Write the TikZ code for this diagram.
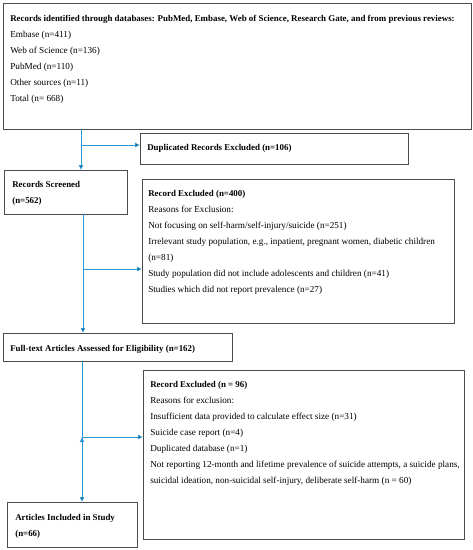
\documentclass[tikz,border=0pt]{standalone}
\usepackage{fontspec}
\setmainfont{Liberation Serif}
\usetikzlibrary{arrows.meta,positioning}
\definecolor{flowblue}{RGB}{40,150,210}
\newcommand{\hd}[1]{{\fontsize{8.9}{16}\selectfont\bfseries #1}}

\begin{document}
\begin{tikzpicture}[x=1pt,y=1pt,>={Latex[length=5pt,width=5pt]},
                    semithick]
\tikzstyle{every node}=[font=\fontsize{9.2}{16}\selectfont]
\tikzstyle{box}=[draw=black!70,line width=0.8pt,inner sep=0pt,anchor=north west]
\tikzstyle{txt}=[inner sep=0pt,anchor=north west,align=left]
\tikzstyle{flow}=[->,draw=flowblue,line width=0.9pt]

\useasboundingbox (0,0) rectangle (473,-550);

        % boxes
        \node[box,minimum width=468pt,minimum height=126pt]   (ident)  at (3,-3)     {};
        \node[box,minimum width=268pt,minimum height=31pt]    (dup)    at (140,-133) {};
        \node[box,minimum width=123pt,minimum height=44pt]    (screen) at (4,-170)   {};
        \node[box,minimum width=312pt,minimum height=144pt]   (excl1)  at (142,-179) {};
        \node[box,minimum width=229pt,minimum height=28pt]    (full)   at (3,-333)   {};
        \node[box,minimum width=321pt,minimum height=169pt]   (excl2)  at (143,-370) {};
        \node[box,minimum width=130pt,minimum height=45pt]    (incl)   at (7,-502)   {};

        % texts
        \node[txt] (tident) at ([shift={(7,-12)}]ident.north west)
            {\hd{Records identified through databases: PubMed, Embase, Web of Science, Research Gate, and from previous reviews:}\\
             Embase (n=411)\\ Web of Science (n=136)\\ PubMed (n=110)\\ Other sources (n=11)\\ Total (n= 668)};
        \node[txt] (tdup) at ([shift={(7,-11)}]dup.north west)
            {\hd{Duplicated Records Excluded (n=106)}};
        \node[txt] (tscreen) at ([shift={(8,-11)}]screen.north west)
            {\hd{Records Screened}\\ \hd{(n=562)}};
        \node[txt] (texcl1) at ([shift={(6,-11)}]excl1.north west)
            {\hd{Record Excluded (n=400)}\\
             Reasons for Exclusion:\\
             Not focusing on self-harm/self-injury/suicide (n=251)\\
             Irrelevant study population, e.g., inpatient, pregnant women, diabetic children\\
             (n=81)\\
             Study population did not include adolescents and children (n=41)\\
             Studies which did not report prevalence (n=27)};
        \node[txt] (tfull) at ([shift={(7,-12)}]full.north west)
            {\hd{Full-text Articles Assessed for Eligibility (n=162)}};
        \node[txt] (texcl2) at ([shift={(7,-11)}]excl2.north west)
            {\hd{Record Excluded (n = 96)}\\
             Reasons for exclusion:\\
             Insufficient data provided to calculate effect size (n=31)\\
             Suicide case report (n=4)\\
             Duplicated database (n=1)\\
             Not reporting 12-month and lifetime prevalence of suicide attempts, a suicide plans,\\
             suicidal ideation, non-suicidal self-injury, deliberate self-harm (n = 60)};
        \node[txt] (tincl) at ([shift={(8,-12)}]incl.north west)
            {\hd{Articles Included in Study}\\ \hd{(n=66)}};

        % connectors
        \coordinate (v1) at (81,-129);
        \coordinate (h1) at (81,-145);
        \coordinate (v2) at (83,-214);
        \coordinate (h2) at (83,-269);
        \coordinate (v3) at (82,-361);
        \coordinate (h3) at (82,-437);

        \path[flow]
        (v1)   edge   (v1 |- screen.north)
        (h1)   edge   (h1 -| dup.west)
        (v2)   edge   (v2 |- full.north)
        (h2)   edge   (h2 -| excl1.west)
        (v3)   edge   (v3 |- incl.north)
        (h3)   edge   (h3 -| excl2.west)
        ; %end path

\end{tikzpicture}
\end{document}
